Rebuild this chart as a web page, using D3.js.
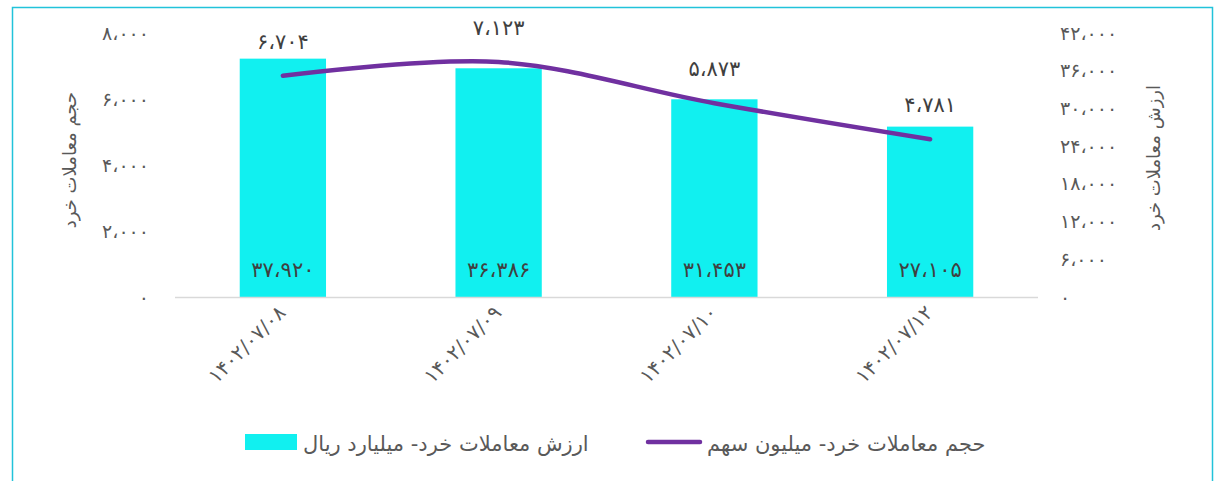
<!DOCTYPE html>
<meta charset="utf-8">
<style>

body {
  margin: 0;
  background: #fff;
  font-family: "DejaVu Sans", sans-serif;
}

.axis text {
  fill: #595959;
  font-size: 19px;
}

.label {
  fill: #404040;
}

</style>
<body>
<script src="https://cdn.jsdelivr.net/npm/d3@7"></script>
<script>

// data
var dates = ["1402/07/08", "1402/07/09", "1402/07/10", "1402/07/12"];
var valueBars = [37920, 36386, 31453, 27105];   // ارزش معاملات خرد - میلیارد ریال
var volumeLine = [6704, 7123, 5873, 4781];      // حجم معاملات خرد - میلیون سهم
var leftTicks = [0, 2000, 4000, 6000, 8000];
var rightTicks = [0, 6000, 12000, 18000, 24000, 30000, 36000, 42000];

var barName = "ارزش معاملات خرد- میلیارد ریال";
var lineName = "حجم معاملات خرد- میلیون سهم";

var data = dates.map(function(d, i) {
  return {date: d, value: valueBars[i], volume: volumeLine[i]};
});

var width = 1221,
    height = 481;

var fa = function(s) {
  return String(s).replace(/[0-9]/g, function(c) { return "۰۱۲۳۴۵۶۷۸۹"[+c]; })
    .replace(/,/g, "،");
};
var fmt = function(v) { return fa(d3.format(",")(v)); };

var svg = d3.select("body").append("svg")
    .attr("width", width)
    .attr("height", height);

// frame
svg.append("rect")
    .attr("x", 12.5)
    .attr("y", 7.5)
    .attr("width", 1200)
    .attr("height", 490)
    .attr("fill", "none")
    .attr("stroke", "#22C3DA")
    .attr("stroke-width", 1.5);

var x = d3.scaleBand()
    .domain(dates)
    .range([175, 1038])
    .paddingInner(0.6)
    .paddingOuter(0.3);

var yLeft = d3.scaleLinear()
    .domain([0, 8000])
    .range([297, 33]);

var yRight = d3.scaleLinear()
    .domain([0, 42000])
    .range([297, 33]);

// left axis
svg.append("g")
    .attr("class", "axis")
    .attr("transform", "translate(149,0)")
    .call(d3.axisLeft(yLeft).tickValues(leftTicks).tickSize(0).tickPadding(0).tickFormat(fmt))
    .call(function(g) { g.select(".domain").remove(); })
    .selectAll("text").attr("font-family", "DejaVu Sans");

// right axis
svg.append("g")
    .attr("class", "axis")
    .attr("transform", "translate(1060,0)")
    .call(d3.axisRight(yRight).tickValues(rightTicks).tickSize(0).tickPadding(0).tickFormat(fmt))
    .call(function(g) { g.select(".domain").remove(); })
    .selectAll("text").attr("font-family", "DejaVu Sans");

// bars
svg.selectAll(".bar")
    .data(data)
  .enter().append("rect")
    .attr("class", "bar")
    .attr("x", function(d) { return x(d.date); })
    .attr("width", x.bandwidth())
    .attr("y", function(d) { return yRight(d.value); })
    .attr("height", function(d) { return yRight(0) - yRight(d.value); })
    .attr("fill", "#11F0F0");

// baseline
svg.append("line")
    .attr("x1", x.range()[0])
    .attr("x2", x.range()[1])
    .attr("y1", yRight(0) + 0.5)
    .attr("y2", yRight(0) + 0.5)
    .attr("stroke", "#D9D9D9")
    .attr("stroke-width", 1.5);

// x labels
svg.selectAll(".xlab")
    .data(data)
  .enter().append("text")
    .attr("transform", function(d) {
      return "translate(" + (x(d.date) + x.bandwidth() / 2 + 4) + ",314) rotate(-45)";
    })
    .attr("text-anchor", "end")
    .style("font-size", "20px")
    .style("fill", "#595959")
    .text(function(d) { return fa(d.date); });

// bar value labels
svg.selectAll(".barlab")
    .data(data)
  .enter().append("text")
    .attr("class", "label")
    .attr("x", function(d) { return x(d.date) + x.bandwidth() / 2; })
    .attr("y", 277)
    .attr("text-anchor", "middle")
    .style("font-size", "21px")
    .text(function(d) { return fmt(d.value); });

// line
var line = d3.line()
    .x(function(d) { return x(d.date) + x.bandwidth() / 2; })
    .y(function(d) { return yLeft(d.volume); })
    .curve(d3.curveCatmullRom);

svg.append("path")
    .datum(data)
    .attr("d", line)
    .attr("fill", "none")
    .attr("stroke", "#7030A0")
    .attr("stroke-width", 4.5)
    .attr("stroke-linecap", "round");

svg.selectAll(".linelab")
    .data(data)
  .enter().append("text")
    .attr("class", "label")
    .attr("x", function(d) { return x(d.date) + x.bandwidth() / 2; })
    .attr("y", function(d) { return yLeft(d.volume) - 27; })
    .attr("text-anchor", "middle")
    .style("font-size", "21px")
    .text(function(d) { return fmt(d.volume); });

// axis titles
svg.append("text")
    .attr("transform", "translate(76,160) rotate(-90)")
    .attr("text-anchor", "middle")
    .style("font-size", "18px")
    .style("fill", "#595959")
    .text("حجم معاملات خرد");

svg.append("text")
    .attr("transform", "translate(1160,158) rotate(-90)")
    .attr("text-anchor", "middle")
    .style("font-size", "18px")
    .style("fill", "#595959")
    .text("ارزش معاملات خرد");

// legend
var legend = svg.append("g").attr("class", "legend");

legend.append("rect")
    .attr("x", 245)
    .attr("y", 434)
    .attr("width", 52)
    .attr("height", 16)
    .attr("fill", "#11F0F0");

legend.append("text")
    .attr("x", 303)
    .attr("y", 451)
    .attr("direction", "rtl")
    .attr("text-anchor", "end")
    .style("font-size", "21px")
    .style("fill", "#595959")
    .text(barName);

legend.append("line")
    .attr("x1", 648)
    .attr("x2", 700)
    .attr("y1", 442)
    .attr("y2", 442)
    .attr("stroke", "#7030A0")
    .attr("stroke-width", 4.5)
    .attr("stroke-linecap", "round");

legend.append("text")
    .attr("x", 707)
    .attr("y", 451)
    .attr("direction", "rtl")
    .attr("text-anchor", "end")
    .style("font-size", "21px")
    .style("fill", "#595959")
    .text(lineName);

</script>
